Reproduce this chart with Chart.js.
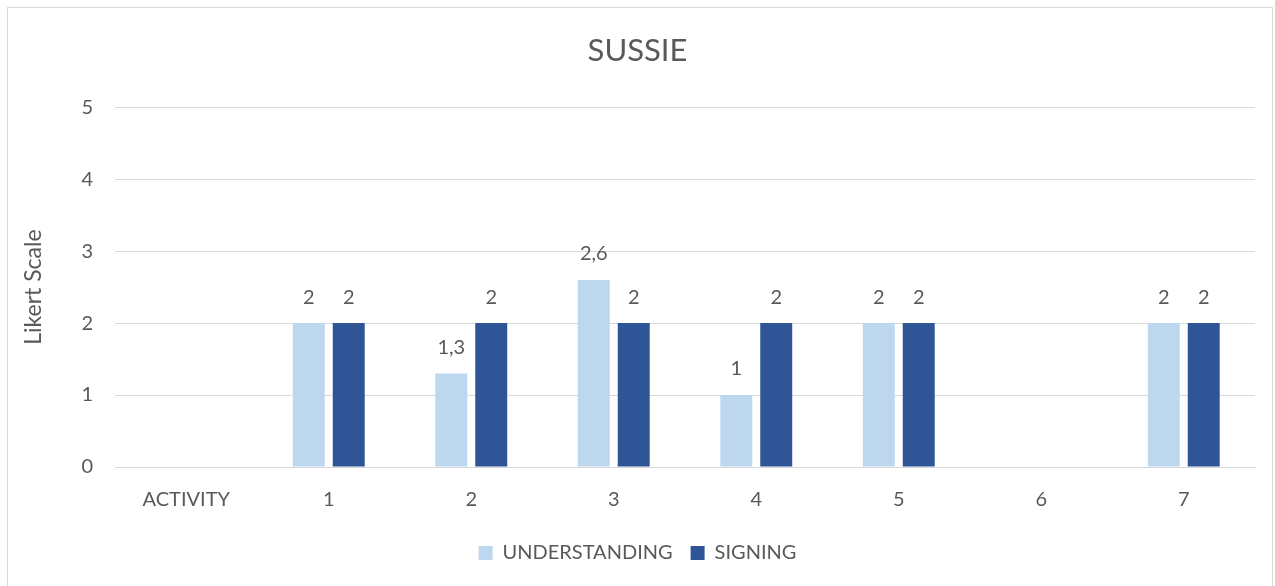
<!DOCTYPE html>
<html>
<head>
<meta charset="utf-8">
<script src="https://cdn.jsdelivr.net/npm/chart.js@4/dist/chart.umd.min.js"></script>
<style>
  html, body { margin: 0; padding: 0; background: #fff; }
  #wrap { position: relative; width: 1275px; height: 586px; }
  #frame { position: absolute; left: 7px; top: 7px; width: 1266px; height: 600px; border: 1px solid #D9D9D9; box-sizing: border-box; }
  #sussieChart { position: absolute; left: 0; top: 0; }
</style>
</head>
<body>
<div id="wrap">
  <div id="frame"></div>
  <canvas id="sussieChart" width="1275" height="586"></canvas>
</div>
<script>
const categories = ["ACTIVITY", "1", "2", "3", "4", "5", "6", "7"];
const understanding = [null, 2, 1.3, 2.6, 1, 2, null, 2];
const signing = [null, 2, 2, 2, 2, 2, null, 2];
const yTicks = [0, 1, 2, 3, 4, 5];

const TEXT = "#595959";
const GRID = "#D9D9D9";
const FONT = "Lato, 'Open Sans', sans-serif";

// writes each bar's value above it, decimal comma
const valueLabels = {
    id: "valueLabels",
    afterDatasetsDraw(chart) {
        const ctx = chart.ctx;
        ctx.save();
        ctx.font = "20px " + FONT;
        ctx.fillStyle = TEXT;
        ctx.textAlign = "center";
        ctx.textBaseline = "middle";
        chart.data.datasets.forEach((ds, i) => {
            chart.getDatasetMeta(i).data.forEach((bar, j) => {
                const v = ds.data[j];
                if (v === null || v === undefined) return;
                ctx.fillText(String(v).replace(".", ","), bar.x, bar.y - 26);
            });
        });
        ctx.restore();
    }
};

new Chart(document.getElementById("sussieChart"), {
    type: "bar",
    data: {
        labels: categories,
        datasets: [
            {
                label: "UNDERSTANDING",
                data: understanding,
                backgroundColor: "#BDD7EE",
                categoryPercentage: 0.561,
                barPercentage: 0.8
            },
            {
                label: "SIGNING",
                data: signing,
                backgroundColor: "#2F5597",
                categoryPercentage: 0.561,
                barPercentage: 0.8
            }
        ]
    },
    options: {
        responsive: false,
        animation: false,
        layout: { padding: { left: 20, right: 20, top: 24, bottom: 13 } },
        plugins: {
            title: {
                display: true,
                text: "SUSSIE",
                color: TEXT,
                font: { family: FONT, size: 31, weight: "normal" },
                padding: { top: 8, bottom: 38 }
            },
            legend: {
                position: "bottom",
                labels: {
                    color: TEXT,
                    font: { family: FONT, size: 20 },
                    boxWidth: 14,
                    boxHeight: 14,
                    padding: 18
                }
            },
            tooltip: { enabled: false }
        },
        scales: {
            x: {
                grid: { display: false },
                border: { color: GRID, width: 1 },
                ticks: { color: TEXT, font: { family: FONT, size: 20 }, padding: 13 }
            },
            y: {
                min: 0,
                max: 5,
                afterBuildTicks(scale) {
                    scale.ticks = yTicks.map(v => ({ value: v }));
                },
                afterFit(scale) {
                    scale.width = 95;
                },
                grid: { color: GRID, drawTicks: false },
                border: { display: false },
                ticks: { color: TEXT, font: { family: FONT, size: 20 }, padding: 22 },
                title: {
                    display: true,
                    text: "Likert Scale",
                    color: TEXT,
                    font: { family: FONT, size: 23 },
                    padding: { top: 0, bottom: 10 }
                }
            }
        }
    },
    plugins: [valueLabels]
});
</script>
</body>
</html>
